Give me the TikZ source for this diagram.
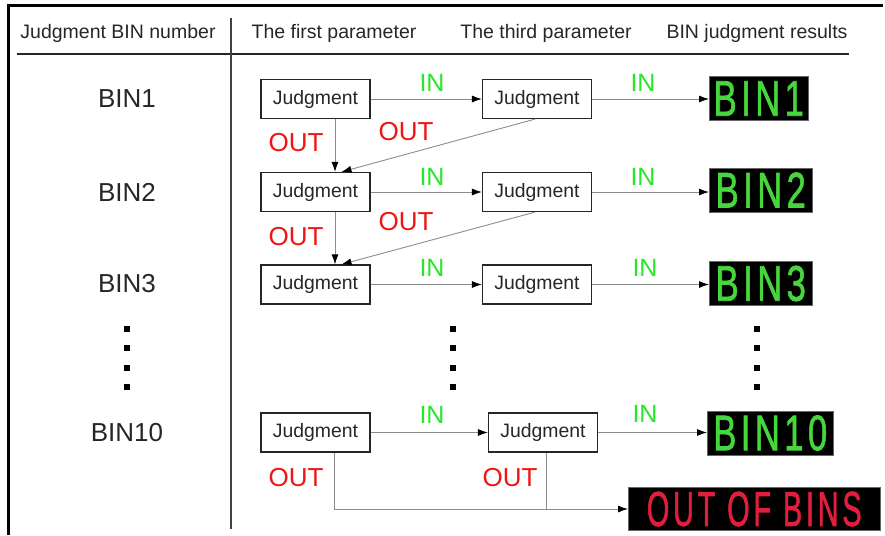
\documentclass[tikz,border=0pt]{standalone}
\usepackage{fontspec}
\setmainfont{Liberation Sans}
\newfontfamily\ledfont[LetterSpace=13,FakeBold=1.6]{Liberation Sans}
\usetikzlibrary{arrows.meta,calc}
\definecolor{ingreen}{RGB}{40,230,40}
\definecolor{outred}{RGB}{240,20,20}
\definecolor{ledgreen}{RGB}{70,215,60}
\definecolor{ledred}{RGB}{225,30,60}
\newcommand\ledtxt[1]{\scalebox{0.69}[1]{\fontsize{50}{53}\ledfont #1}}
\newcommand\ledoob[1]{\scalebox{0.59}[1]{\fontsize{49}{52}\ledfont #1}}
\begin{document}
\begin{tikzpicture}[x=1pt,y=-1pt,
  jbox/.style={draw=black!85, line width=1.2pt, minimum width=109pt, minimum height=39pt, inner sep=0pt, font=\fontsize{19.4}{22}\selectfont, text=black!85},
  conn/.style={draw=black!45, line width=0.9pt},
  arr/.style={conn, -{Latex[length=10pt,width=7pt,color=black]}},
  inlab/.style={text=ingreen, font=\fontsize{25}{28}\selectfont, inner sep=0pt},
  outlab/.style={text=outred, font=\fontsize{26}{29}\selectfont, inner sep=0pt},
  binlab/.style={font=\fontsize{26}{29}\selectfont, text=black!85, inner sep=0pt},
  hdr/.style={font=\fontsize{19.5}{22}\selectfont, text=black!85, inner sep=0pt},
  ledbox/.style={fill=black, draw=black!60, line width=0.5pt, minimum height=44pt, inner sep=0pt, anchor=west, text=ledgreen},
  sqdot/.style={fill=black, minimum size=6pt, inner sep=0pt}]
\useasboundingbox (0,0) rectangle (885,535);
% frame
\draw[line width=3pt] (8,535) -- (8,6) -- (883,6);
\draw[line width=2pt, black!85] (17,54) -- (849,54);
\draw[line width=1.8pt, black!75] (231,18) -- (231,529);
% header
\node[hdr] (h1) at (118,33) {Judgment BIN number};
\node[hdr] (h2) at (334,33) {The first parameter};
\node[hdr] (h3) at (546,33) {The third parameter};
\node[hdr] (h4) at (757,33) {BIN judgment results};
% BIN labels
\node[binlab] (l1) at (127,99) {BIN1};
\node[binlab] (l2) at (127,192) {BIN2};
\node[binlab] (l3) at (127,284) {BIN3};
\node[binlab] (l10) at (127,433) {BIN10};
% judgment boxes
\node[jbox] (j11) at (315.5,99) {Judgment};
\node[jbox] (j12) at (537,99) {Judgment};
\node[jbox] (j21) at (315.5,192) {Judgment};
\node[jbox] (j22) at (537,192) {Judgment};
\node[jbox] (j31) at (315.5,284.5) {Judgment};
\node[jbox] (j32) at (537,284.5) {Judgment};
\node[jbox] (j101) at (315.5,432.5) {Judgment};
\node[jbox] (j102) at (543,432.5) {Judgment};
% LED results
\node[ledbox, minimum width=99pt] (b1) at (709,98.5) {\ledtxt{BIN1}};
\node[ledbox, minimum width=103pt] (b2) at (709,190) {\ledtxt{BIN2}};
\node[ledbox, minimum width=103pt] (b3) at (709,283.5) {\ledtxt{BIN3}};
\node[ledbox, minimum width=126pt] (b10) at (707,433) {\ledtxt{BIN10}};
\node[ledbox, minimum width=252pt, minimum height=43pt, text=ledred] (oob) at (628,509) {\ledoob{OUT OF BINS}};
% IN connectors
\draw[arr] (j11) -- (j12);
\draw[arr] (j12) -- (j12 -| b1.west);
\draw[arr] (j21) -- (j22);
\draw[arr] (j22.east) -- (j22.east -| b2.west);
\draw[arr] (j31) -- (j32);
\draw[arr] (j32.east) -- (j32.east -| b3.west);
\draw[arr] (j101) -- (j102);
\draw[arr] (j102.east) -- (j102.east -| b10.west);
% OUT connectors
\draw[arr] ($(j11.south)+(19.5,0)$) -- ($(j21.north)+(19.5,0)$);
\draw[arr] ($(j12.south)+(-2,0)$) -- ($(j21.north)+(26,0)$);
\draw[arr] ($(j21.south)+(19.5,0)$) -- ($(j31.north)+(19.5,0)$);
\draw[arr] ($(j22.south)+(-2,0)$) -- ($(j31.north)+(26,0)$);
\coordinate (c1) at ($(j101.south)+(18.5,0)$);
\coordinate (c2) at ($(j102.south)+(3,0)$);
\draw[arr] (c1) |- (oob.west);
\draw[conn] (c2) -- (c2 |- oob.west);
% labels
\node[inlab] (i11) at (432,83) {IN};
\node[inlab] (i12) at (643,83) {IN};
\node[inlab] (i21) at (432,177) {IN};
\node[inlab] (i22) at (643,177) {IN};
\node[inlab] (i31) at (432,268) {IN};
\node[inlab] (i32) at (645,268) {IN};
\node[inlab] (i101) at (432,415) {IN};
\node[inlab] (i102) at (645,414) {IN};
\node[outlab] (o11) at (296,143) {OUT};
\node[outlab] (o12) at (406,132) {OUT};
\node[outlab] (o21) at (296,237) {OUT};
\node[outlab] (o22) at (406,222) {OUT};
\node[outlab] (o101) at (296,478) {OUT};
\node[outlab] (o102) at (510,478) {OUT};
% dots
\foreach \xx/\nm in {127/a,453/b,757/c}{
  \foreach \yy [count=\k] in {329,348,368,387}{
    \node[sqdot] (d\nm\k) at (\xx,\yy) {};
  }
}
\end{tikzpicture}
\end{document}
